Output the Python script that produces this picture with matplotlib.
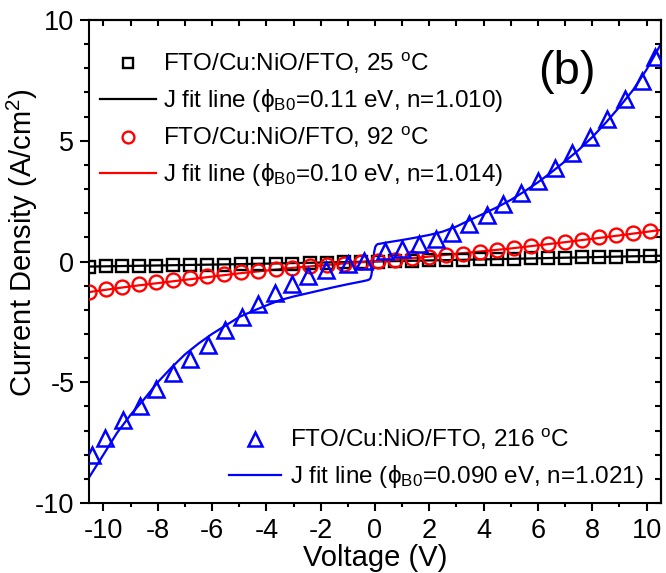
import matplotlib
matplotlib.use("Agg")
import matplotlib.pyplot as plt
from matplotlib.ticker import MultipleLocator
from matplotlib.lines import Line2D

plt.rcParams['font.family'] = ['Liberation Sans', 'DejaVu Sans']
plt.rcParams['mathtext.fontset'] = 'custom'
plt.rcParams['mathtext.rm'] = 'Liberation Sans'
plt.rcParams['mathtext.it'] = 'Liberation Sans:italic'
plt.rcParams['axes.unicode_minus'] = False

# ---------------- data ----------------
V_meas = [-10.53, -9.92, -9.30, -8.68, -8.05, -7.42, -6.80, -6.17, -5.55, -4.92,
          -4.29, -3.66, -3.04, -2.41, -1.78, -1.15, -0.52, 0.10, 0.73, 1.36,
          1.99, 2.62, 3.24, 3.87, 4.50, 5.12, 5.75, 6.38, 7.00, 7.63,
          8.26, 8.88, 9.51, 10.14]
J_25 = [-0.21, -0.20, -0.19, -0.18, -0.17, -0.16, -0.15, -0.14, -0.13, -0.12,
        -0.11, -0.10, -0.09, -0.07, -0.06, -0.04, -0.02, 0.00, 0.02, 0.04,
        0.05, 0.07, 0.08, 0.10, 0.11, 0.12, 0.14, 0.15, 0.16, 0.18,
        0.19, 0.20, 0.22, 0.23]
J_92 = [-1.25, -1.15, -1.05, -0.95, -0.85, -0.76, -0.67, -0.59, -0.51, -0.44,
        -0.38, -0.32, -0.26, -0.20, -0.14, -0.09, -0.04, 0.01, 0.07, 0.13,
        0.19, 0.26, 0.33, 0.40, 0.48, 0.56, 0.64, 0.73, 0.82, 0.91,
        1.00, 1.09, 1.18, 1.27]

V_216 = [-10.42, -9.94, -9.26, -8.67, -8.08, -7.45, -6.81, -6.16, -5.54, -4.89,
         -4.29, -3.68, -3.07, -2.45, -1.80, -0.99, -0.40, 0.35, 1.00, 1.62,
         2.23, 2.84, 3.47, 4.11, 4.73, 5.38, 6.00, 6.64, 7.25, 7.90,
         8.54, 9.19, 9.83, 10.30]
J_216 = [-8.01, -7.32, -6.56, -5.98, -5.29, -4.63, -4.05, -3.46, -2.84, -2.28,
         -1.77, -1.29, -0.93, -0.60, -0.34, -0.10, 0.03, 0.45, 0.52, 0.72,
         0.92, 1.19, 1.55, 1.94, 2.37, 2.85, 3.33, 3.88, 4.51, 5.14,
         5.89, 6.72, 7.47, 8.46]

# fit lines
Vfit_25 = [-10.55, -5.0, 0.0, 5.0, 10.55]
Jfit_25 = [-0.21, -0.11, 0.00, 0.11, 0.24]

Vfit_92 = [-10.55, -9.0, -7.0, -5.0, -3.0, -1.0, 0.0, 1.0, 3.0, 5.0, 7.0, 9.0, 10.55]
Jfit_92 = [-1.27, -1.03, -0.76, -0.49, -0.26, -0.07, 0.01, 0.09, 0.32, 0.54, 0.80, 1.08, 1.31]

Vfit_216 = [-10.55, -10.0, -9.5, -9.0, -8.5, -8.0, -7.5, -7.0, -6.5, -6.0,
            -5.5, -5.0, -4.5, -4.0, -3.5, -3.0, -2.5, -2.0, -1.5, -1.0,
            -0.5, -0.3, -0.22, -0.17, -0.13, -0.08, -0.03, 0.01, 0.05, 0.1,
            0.2, 0.5, 1.0, 1.5, 2.0, 2.5, 3.0, 3.5, 4.0, 4.5,
            5.0, 5.5, 6.0, 6.5, 7.0, 7.5, 8.0, 8.5, 9.0, 9.5,
            10.0, 10.55]
Jfit_216 = [-8.98, -8.00, -7.10, -6.35, -5.70, -5.00, -4.40, -3.85, -3.40, -3.00,
            -2.65, -2.30, -2.05, -1.82, -1.60, -1.45, -1.32, -1.19, -1.06, -0.94,
            -0.83, -0.78, -0.75, -0.70, -0.55, -0.10, 0.40, 0.60, 0.68, 0.72,
            0.74, 0.80, 0.89, 0.99, 1.10, 1.24, 1.45, 1.72, 1.98, 2.25,
            2.55, 2.90, 3.28, 3.70, 4.15, 4.62, 5.15, 5.75, 6.40, 7.10,
            7.95, 9.05]

labels = [r'FTO/Cu:NiO/FTO, 25 $^{\mathrm{o}}$C',
          r'J fit line (ϕ$_{\mathrm{B0}}$=0.11 eV, n=1.010)',
          r'FTO/Cu:NiO/FTO, 92 $^{\mathrm{o}}$C',
          r'J fit line (ϕ$_{\mathrm{B0}}$=0.10 eV, n=1.014)',
          r'FTO/Cu:NiO/FTO, 216 $^{\mathrm{o}}$C',
          r'J fit line (ϕ$_{\mathrm{B0}}$=0.090 eV, n=1.021)']

BLUE = '#0000ff'
RED = '#ff0000'

fig = plt.figure(figsize=(6.66, 5.73), dpi=100)
ax = fig.add_axes([89/666, 1 - 503/573, (661 - 89)/666, (503 - 20)/573])

lw = 1.6
ax.plot(Vfit_25, Jfit_25, color='k', lw=lw, zorder=2)
ax.plot(Vfit_92, Jfit_92, color=RED, lw=lw, zorder=2)
ax.plot(Vfit_216, Jfit_216, color=BLUE, lw=lw, zorder=2)
ax.plot(V_meas, J_25, ls='none', marker='s', ms=8, mfc='none', mec='k', mew=1.7, zorder=3)
ax.plot(V_meas, J_92, ls='none', marker='o', ms=10, mfc='none', mec=RED, mew=1.7, zorder=3)
ax.plot(V_216, J_216, ls='none', marker='^', ms=11.5, mfc='none', mec=BLUE, mew=1.8, zorder=4)

ax.set_xlim(-10.53, 10.53)
ax.set_ylim(-10, 10)
ax.xaxis.set_major_locator(MultipleLocator(2))
ax.xaxis.set_minor_locator(MultipleLocator(1))
ax.yaxis.set_major_locator(MultipleLocator(5))
ax.yaxis.set_minor_locator(MultipleLocator(1))

for s in ax.spines.values():
    s.set_linewidth(1.5)

ax.tick_params(axis='x', which='major', direction='out', length=5.5, width=1.5,
               labelsize=19.5, pad=5)
ax.tick_params(axis='x', which='minor', direction='out', length=3, width=1.5)
ax.tick_params(axis='y', which='major', direction='out', length=6.5, width=1.5,
               labelsize=19.5, pad=4)
ax.tick_params(axis='y', which='minor', direction='out', length=3.5, width=1.5)

secx = ax.secondary_xaxis('top')
secx.xaxis.set_major_locator(MultipleLocator(1))
secx.tick_params(axis='x', which='major', direction='in', length=4.5, width=1.5,
                 labeltop=False)
secy = ax.secondary_yaxis('right')
secy.yaxis.set_major_locator(MultipleLocator(1))
secy.tick_params(axis='y', which='major', direction='in', length=4.5, width=1.5,
                 labelright=False)
for s in list(secx.spines.values()) + list(secy.spines.values()):
    s.set_linewidth(1.5)

ax.set_xlabel('Voltage (V)', fontsize=21, labelpad=0)
ax.set_ylabel('Current Density (A/cm$^{\\mathrm{2}}$)', fontsize=21)
ax.yaxis.set_label_coords(-0.085, 0.54)

ax.text(0.836, 0.892, '(b)', transform=ax.transAxes, fontsize=34,
        ha='center', va='center')

h1 = [Line2D([], [], ls='none', marker='s', ms=7.5, mfc='none', mec='k', mew=1.7),
      Line2D([], [], color='k', lw=lw),
      Line2D([], [], ls='none', marker='o', ms=8.5, mfc='none', mec=RED, mew=1.7),
      Line2D([], [], color=RED, lw=lw)]
leg1 = ax.legend(h1, labels[:4], loc='upper left',
                 bbox_to_anchor=(100/666, 1 - 51/573), bbox_transform=fig.transFigure,
                 frameon=False, fontsize=17.5, handlelength=2.3, handletextpad=0.3,
                 borderpad=0, borderaxespad=0, labelspacing=0.45)
ax.add_artist(leg1)

h2 = [Line2D([], [], ls='none', marker='^', ms=9.5, mfc='none', mec=BLUE, mew=1.8),
      Line2D([], [], color=BLUE, lw=lw)]
ax.legend(h2, labels[4:], loc='upper left',
          bbox_to_anchor=(229/666, 1 - 427/573), bbox_transform=fig.transFigure,
          frameon=False, fontsize=17.5, handlelength=2.14, handletextpad=0.37,
          borderpad=0, borderaxespad=0, labelspacing=0.45)

fig.savefig('out.png', dpi=100)
